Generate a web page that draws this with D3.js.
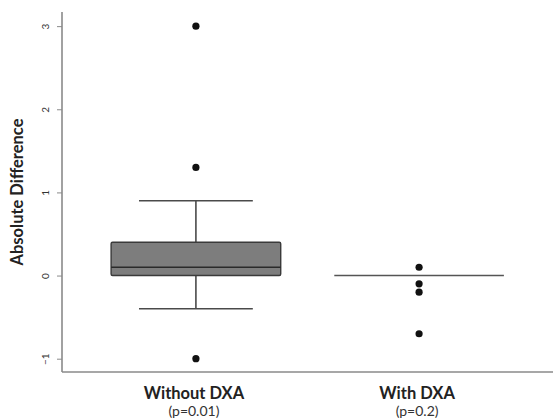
<!DOCTYPE html>
<html>
<head>
<meta charset="utf-8">
<script src="https://cdn.jsdelivr.net/npm/d3@7/dist/d3.min.js"></script>
<style>
  html, body { margin: 0; padding: 0; background: #fff; }
  svg { display: block; }
</style>
</head>
<body>
<svg id="chart" width="553" height="420"></svg>
<script>
// Groups and their box-plot summaries
const categories = ["Without DXA", "With DXA"];
const pLabels = ["(p=0.01)", "(p=0.2)"];
const q1 = [0.0, 0.0];
const median = [0.1, 0.0];
const q3 = [0.4, 0.0];
const whiskerLow = [-0.4, 0.0];
const whiskerHigh = [0.9, 0.0];
const outliers = [
  [3.0, 1.3, -1.0],
  [0.1, -0.1, -0.2, -0.7]
];
const yTicks = [-1, 0, 1, 2, 3];

const svg = d3.select("#chart");
const plotLeft = 62, plotRight = 553, plotTop = 12, plotBottom = 372;

const x = d3.scalePoint().domain(categories).range([plotLeft, plotRight]).padding(0.6);
const y = d3.scaleLinear().domain([-1.16, 3.17]).range([plotBottom, plotTop]);

const boxW = x.step() * 0.76;
const capW = x.step() * 0.51;
const lineCol = "#4a4a4a";
const font = "Lato, 'Open Sans', sans-serif";

// Axes
const yAxis = d3.axisLeft(y).tickValues(yTicks).tickSize(5).tickFormat(d3.format("d"));
const gy = svg.append("g").attr("transform", `translate(${plotLeft},0)`).call(yAxis);
gy.select(".domain").attr("stroke", "#8a8a8a").attr("stroke-width", 1.6)
  .attr("d", `M0,${plotTop}V${plotBottom}`);
gy.selectAll(".tick line").attr("stroke", "#8a8a8a");
gy.selectAll(".tick text")
  .attr("font-family", font)
  .attr("font-size", 10)
  .attr("fill", "#333")
  .attr("x", 0).attr("dx", 0)
  .attr("transform", "translate(-17,0) rotate(-90)")
  .attr("text-anchor", "middle")
  .attr("dy", "0.35em");

svg.append("line")
  .attr("x1", plotLeft).attr("x2", plotRight)
  .attr("y1", plotBottom).attr("y2", plotBottom)
  .attr("stroke", "#8a8a8a").attr("stroke-width", 1.6);

// Axis titles
svg.append("text")
  .attr("transform", `translate(23,${(y(3.17) + y(-1.16)) / 2}) rotate(-90)`)
  .attr("text-anchor", "middle")
  .attr("font-family", font)
  .attr("font-weight", "bold")
  .attr("font-size", 16.5)
  .attr("fill", "#222")
  .text("Absolute Difference");

categories.forEach((c, i) => {
  svg.append("text")
    .attr("x", x(c) - 2).attr("y", 399)
    .attr("text-anchor", "middle")
    .attr("font-family", font)
    .attr("font-weight", "bold")
    .attr("font-size", 16.5)
    .attr("fill", "#222")
    .text(c);
  svg.append("text")
    .attr("x", x(c) - 2).attr("y", 416)
    .attr("text-anchor", "middle")
    .attr("font-family", font)
    .attr("font-size", 14)
    .attr("fill", "#333")
    .text(pLabels[i]);
});

// Boxes, whiskers and outliers
const g = svg.append("g");
categories.forEach((c, i) => {
  const cx = x(c);
  // whisker stems
  g.append("line").attr("x1", cx).attr("x2", cx)
    .attr("y1", y(q3[i])).attr("y2", y(whiskerHigh[i]))
    .attr("stroke", lineCol).attr("stroke-width", 1.6);
  g.append("line").attr("x1", cx).attr("x2", cx)
    .attr("y1", y(q1[i])).attr("y2", y(whiskerLow[i]))
    .attr("stroke", lineCol).attr("stroke-width", 1.6);
  // caps
  if (whiskerHigh[i] !== q3[i]) {
    g.append("line").attr("x1", cx - capW / 2).attr("x2", cx + capW / 2)
      .attr("y1", y(whiskerHigh[i])).attr("y2", y(whiskerHigh[i]))
      .attr("stroke", lineCol).attr("stroke-width", 1.6);
  }
  if (whiskerLow[i] !== q1[i]) {
    g.append("line").attr("x1", cx - capW / 2).attr("x2", cx + capW / 2)
      .attr("y1", y(whiskerLow[i])).attr("y2", y(whiskerLow[i]))
      .attr("stroke", lineCol).attr("stroke-width", 1.6);
  }
  // box
  const h = y(q1[i]) - y(q3[i]);
  if (h > 0.5) {
    g.append("rect")
      .attr("x", cx - boxW / 2).attr("y", y(q3[i]))
      .attr("width", boxW).attr("height", h)
      .attr("rx", 1.5)
      .attr("fill", "#7d7d7d")
      .attr("stroke", "#3a3a3a").attr("stroke-width", 1.4);
  }
  // median
  g.append("line")
    .attr("x1", cx - boxW / 2).attr("x2", cx + boxW / 2)
    .attr("y1", y(median[i])).attr("y2", y(median[i]))
    .attr("stroke", h > 0.5 ? "#2a2a2a" : "#555").attr("stroke-width", 1.6);
  // outliers
  g.selectAll(null).data(outliers[i]).enter().append("circle")
    .attr("cx", cx).attr("cy", d => y(d))
    .attr("r", 3.6).attr("fill", "#111");
});
</script>
</body>
</html>
